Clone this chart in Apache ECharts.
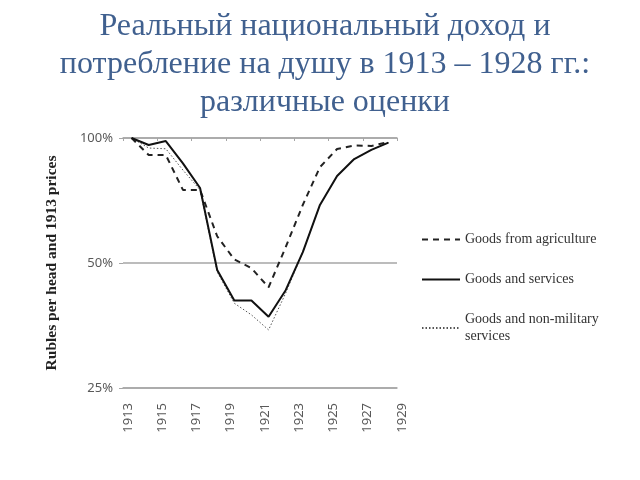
<!DOCTYPE html>
<html>
<head>
<meta charset="utf-8">
<script src="https://cdn.jsdelivr.net/npm/echarts@6/dist/echarts.min.js"></script>
<style>html,body{margin:0;padding:0;background:#fff}#c{width:640px;height:480px}</style>
</head>
<body>
<div id="c"></div>
<script>
var titleText = 'Реальный национальный доход и\nпотребление на душу в 1913 – 1928 гг.:\nразличные оценки';
var yAxisName = 'Rubles per head and 1913 prices';
var years = [1913,1914,1915,1916,1917,1918,1919,1920,1921,1922,1923,1924,1925,1926,1927,1928];
var agriculture = [1.0,0.91,0.91,0.75,0.75,0.58,0.51,0.486,0.437,0.546,0.69,0.851,0.941,0.959,0.957,0.978];
var goodsServices = [1.0,0.962,0.983,0.869,0.758,0.481,0.406,0.406,0.371,0.43,0.531,0.69,0.81,0.89,0.936,0.975];
var nonMilitary = [1.0,0.946,0.942,0.837,0.75,0.476,0.40,0.375,0.345,0.423,0.531,0.69,0.81,0.89,0.936,0.975];
var seriesNames = ['Goods from agriculture','Goods and services','Goods and non-military services'];
var yTicks = [0.25,0.5,1];

function pairs(vals){ return years.map(function(y,i){ return [y, vals[i]]; }); }

var chart = echarts.init(document.getElementById('c'), null, {renderer:'canvas'});
var gridCol = '#a6a6a6';
chart.setOption({
  backgroundColor:'#ffffff',
  animation:false,
  title:{
    text:titleText, left:320, top:3, textAlign:'center',
    textStyle:{fontFamily:'Liberation Serif', fontSize:32, fontWeight:'normal', color:'#40608f', lineHeight:38}
  },
  legend:{
    orient:'vertical', left:416, top:226, itemWidth:38, itemHeight:14, itemGap:23,
    data:seriesNames,
    itemStyle:{opacity:0},
    formatter:function(n){ return n === seriesNames[2] ? 'Goods and non-military\nservices' : n; },
    textStyle:{fontFamily:'Liberation Serif', fontSize:14, color:'#333', lineHeight:17}
  },
  grid:{left:123, right:243, top:138, bottom:92},
  xAxis:[{
    type:'value', min:1912.5, max:1928.5, interval:2, position:'bottom',
    axisLine:{show:true, lineStyle:{color:gridCol, width:1.5}},
    axisTick:{show:false}, splitLine:{show:false},
    axisLabel:{rotate:90, margin:15, verticalAlign:'top', lineHeight:10, fontFamily:'Noto Sans', fontSize:13, color:'#595959',
      formatter:function(v){ return String(Math.round(v+0.5)); }}
  },{
    type:'value', min:1912.5, max:1928.5, interval:2, position:'top',
    axisLine:{show:true, lineStyle:{color:gridCol, width:1.5}},
    axisTick:{show:true, inside:true, length:3, lineStyle:{color:gridCol}},
    axisLabel:{show:false}, splitLine:{show:false}
  }],
  yAxis:{
    type:'log', logBase:2, min:0.25, max:1, interval:1,
    axisLine:{show:false},
    axisTick:{show:true, length:4, lineStyle:{color:gridCol}},
    splitLine:{show:true, lineStyle:{color:gridCol, width:1.5}},
    axisLabel:{margin:10, fontFamily:'Noto Sans', fontSize:13, color:'#595959',
      formatter:function(v){ return Math.round(v*100)+'%'; }}
  },
  graphic:[{
    type:'text', x:52, y:263, rotation:Math.PI/2,
    style:{text:yAxisName, fontFamily:'Liberation Serif', fontSize:15.5, fontWeight:'bold', fill:'#222',
      align:'center', verticalAlign:'middle'}
  }],
  series:[
    {name:seriesNames[0], type:'line', data:pairs(agriculture), symbol:'none', z:3,
     lineStyle:{color:'#222', width:2, type:[6,5]}, itemStyle:{color:'#222'}},
    {name:seriesNames[1], type:'line', data:pairs(goodsServices), symbol:'none', z:4,
     lineStyle:{color:'#111', width:2, type:'solid'}, itemStyle:{color:'#111'}},
    {name:seriesNames[2], type:'line', data:pairs(nonMilitary), symbol:'none', z:2,
     lineStyle:{color:'#555', width:1, type:[1.5,2]}, itemStyle:{color:'#555'}}
  ]
});
</script>
</body>
</html>
